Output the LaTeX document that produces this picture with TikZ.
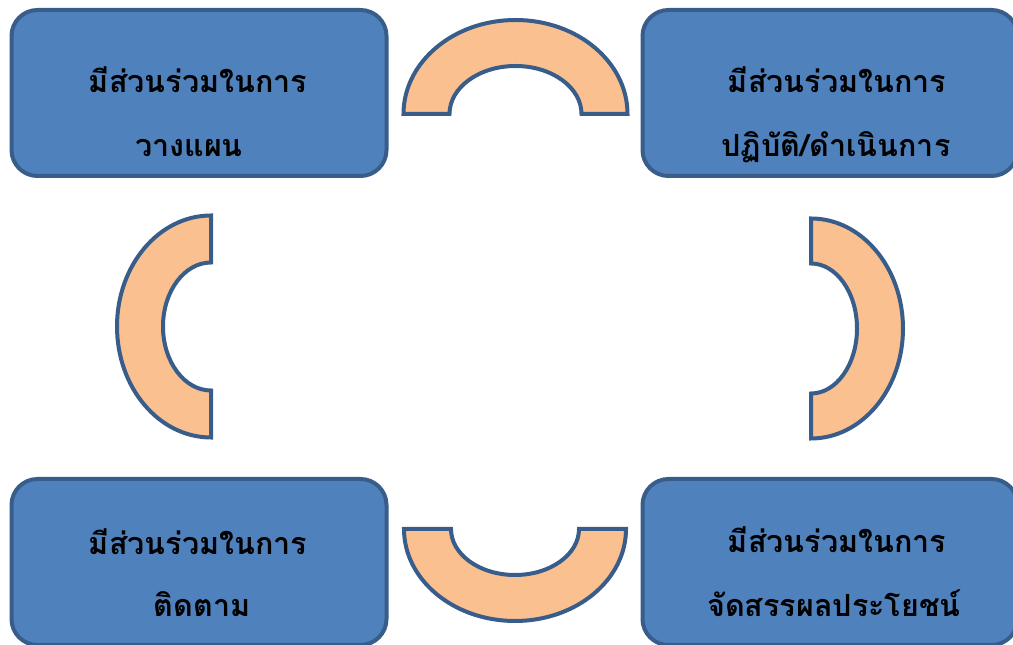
\documentclass[tikz,border=0pt]{standalone}
\usepackage{fontspec}
\newfontfamily\thaifont[Script=Thai]{Loma}
\definecolor{boxfill}{HTML}{4F81BD}
\definecolor{edge}{HTML}{385D8A}
\definecolor{arcfill}{HTML}{FAC090}
\begin{document}
\begin{tikzpicture}[x=1pt,y=1pt,
  box/.style={draw=edge,fill=boxfill,line width=4pt,rounded corners=26pt,
    minimum width=375pt,minimum height=166pt,inner sep=0pt,outer sep=0pt},
  lbl/.style={font=\thaifont\bfseries\fontsize{30.5}{36}\selectfont,anchor=base,inner sep=0pt},
  blockarc/.style={draw=edge,fill=arcfill,line width=4pt,line join=miter}]
\useasboundingbox (0,0) rectangle (1013,645);
% boxes
\node[box] (tl) at (199,552) {};
\node[box] (tr) at (830,552) {};
\node[box] (bl) at (199,83) {};
\node[box] (br) at (830,83) {};
% labels
\node[lbl] (tl1) at (198,552) {มีส่วนร่วมในการ};
\node[lbl] (tl2) at (189,488) {วางแผน};
\node[lbl] (tr1) at (837,552) {มีส่วนร่วมในการ};
\node[lbl] (tr2) at (836,488) {ปฏิบัติ/ดำเนินการ};
\node[lbl] (bl1) at (198,90) {มีส่วนร่วมในการ};
\node[lbl] (bl2) at (202,28) {ติดตาม};
\node[lbl] (br1) at (837,92) {มีส่วนร่วมในการ};
\node[lbl] (br2) at (834,28) {จัดสรรผลประโยชน์};
% block arcs
\draw[blockarc] (403.5,531) arc[start angle=180,end angle=0,x radius=112,y radius=94]
  -- (581.5,531) arc[start angle=0,end angle=180,x radius=66,y radius=48] -- cycle;
\draw[blockarc] (404,116) arc[start angle=180,end angle=360,x radius=111,y radius=92]
  -- (579,116) arc[start angle=360,end angle=180,x radius=64,y radius=46] -- cycle;
\draw[blockarc] (211,429.5) arc[start angle=90,end angle=270,x radius=94,y radius=111]
  -- (211,254.5) arc[start angle=270,end angle=90,x radius=48,y radius=64] -- cycle;
\draw[blockarc] (811,426.5) arc[start angle=90,end angle=-90,x radius=92,y radius=110]
  -- (811,251.5) arc[start angle=-90,end angle=90,x radius=46,y radius=65] -- cycle;
\end{tikzpicture}
\end{document}
